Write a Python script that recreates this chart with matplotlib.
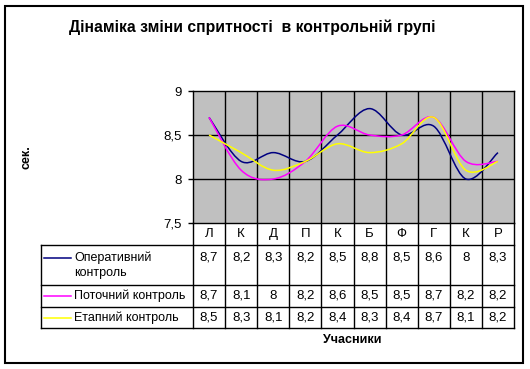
import matplotlib
matplotlib.use("Agg")
import matplotlib.pyplot as plt
from matplotlib.path import Path
from matplotlib.patches import PathPatch, Rectangle

plt.rcParams['font.family'] = ['Liberation Sans', 'DejaVu Sans']

# data
participants = ["Л", "К", "Д", "П", "К", "Б", "Ф", "Г", "К", "Р"]
series_names = ["Оперативний\nконтроль", "Поточний контроль", "Етапний контроль"]
operative = [8.7, 8.2, 8.3, 8.2, 8.5, 8.8, 8.5, 8.6, 8.0, 8.3]
current = [8.7, 8.1, 8.0, 8.2, 8.6, 8.5, 8.5, 8.7, 8.2, 8.2]
stage = [8.5, 8.3, 8.1, 8.2, 8.4, 8.3, 8.4, 8.7, 8.1, 8.2]
colors = ["#000080", "#FF00FF", "#FFFF00"]
series = [operative, current, stage]

W, H = 530, 369
fig = plt.figure(figsize=(W / 100, H / 100), dpi=100)

# plot area position in pixels
px0, px1, py0, py1 = 193, 514, 91, 223
ax = fig.add_axes([px0 / W, 1 - py1 / H, (px1 - px0) / W, (py1 - py0) / H])
ax.set_facecolor("#C0C0C0")
n = len(participants)
ax.set_xlim(0, n)
ax.set_ylim(7.5, 9)


def smooth_path(xs, ys):
    # Excel-like smoothed line: Bezier segments with Catmull-Rom control points
    pts = list(zip(xs, ys))
    verts = [pts[0]]
    codes = [Path.MOVETO]
    for i in range(len(pts) - 1):
        p0 = pts[i - 1] if i > 0 else pts[i]
        p1 = pts[i]
        p2 = pts[i + 1]
        p3 = pts[i + 2] if i + 2 < len(pts) else pts[i + 1]
        c1 = (p1[0] + (p2[0] - p0[0]) / 6, p1[1] + (p2[1] - p0[1]) / 6)
        c2 = (p2[0] - (p3[0] - p1[0]) / 6, p2[1] - (p3[1] - p1[1]) / 6)
        verts += [c1, c2, p2]
        codes += [Path.CURVE4] * 3
    return Path(verts, codes)


xs = [i + 0.5 for i in range(n)]
for ys, c in zip(series, colors):
    ax.add_patch(PathPatch(smooth_path(xs, ys), facecolor="none", edgecolor=c, lw=1.1, zorder=3))

for k in range(1, n):
    ax.axvline(k, color="black", lw=1, zorder=1)
for yv in [8, 8.5]:
    ax.axhline(yv, color="black", lw=1, zorder=1)

ax.set_xticks([])
ax.set_yticks([7.5, 8, 8.5, 9])
ax.set_yticklabels(["7,5", "8", "8,5", "9"], fontsize=9.5)
ax.tick_params(axis="y", length=3.8, width=1, pad=4)
for s in ax.spines.values():
    s.set_linewidth(1)
    s.set_color("black")

# overlay in pixel coordinates for border, table and labels
ov = fig.add_axes([0, 0, 1, 1], zorder=-1)
ov.set_xlim(0, W)
ov.set_ylim(H, 0)
ov.axis("off")
ov.add_patch(Rectangle((5, 6), 518, 357, fill=False, ec="black", lw=1.5))

ov2 = fig.add_axes([0, 0, 1, 1])
ov2.set_xlim(0, W)
ov2.set_ylim(H, 0)
ov2.axis("off")

ov2.text(252, 27, "Дінаміка зміни спритності  в контрольній групі", ha="center", va="center",
         fontsize=11.3, fontweight="bold")
ov2.text(26, 157, "сек.", rotation=90, ha="center", va="center", fontsize=9, fontweight="bold")
ov2.text(352, 340, "Учасники", ha="center", va="center", fontsize=9, fontweight="bold")

# data table
tx0 = 41
cw = (px1 - px0) / n
rows_y = [223, 245, 285, 307, 328]
for y in rows_y[1:]:
    ov2.plot([tx0, px1], [y, y], color="black", lw=1)
ov2.plot([tx0, tx0], [rows_y[1], rows_y[-1]], color="black", lw=1)
for k in range(n + 1):
    x = px0 + k * cw
    ov2.plot([x, x], [rows_y[0], rows_y[-1]], color="black", lw=1)

for k, lab in enumerate(participants):
    ov2.text(px0 + (k + 0.5) * cw, 234, lab, ha="center", va="center", fontsize=9.5)

text_y = [258, 296, 318]
for name, ys, c, ty in zip(series_names, series, colors, text_y):
    ov2.plot([44, 71], [ty, ty], color=c, lw=1.1)
    ov2.text(74, ty - 6.5, name, ha="left", va="top", fontsize=9, linespacing=1.35)
    for k, v in enumerate(ys):
        ov2.text(px0 + (k + 0.5) * cw, ty, f"{v:g}".replace(".", ","), ha="center", va="center", fontsize=9.5)

fig.savefig("out.png", dpi=100)
